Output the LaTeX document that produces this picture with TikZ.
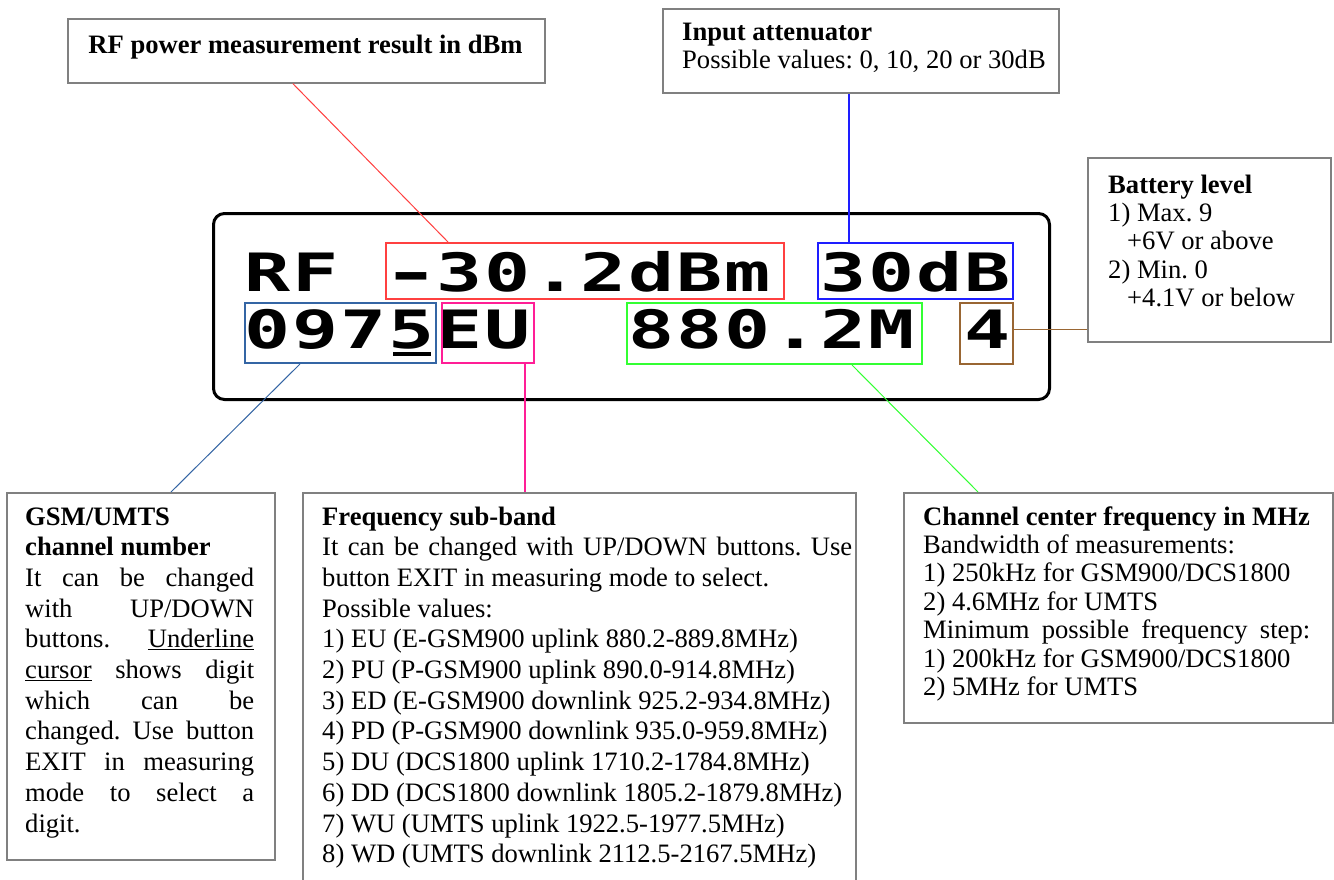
\documentclass[tikz,border=0pt]{standalone}
\usepackage{fontspec}
\usepackage{graphicx}
\setmainfont{Liberation Serif}
\newfontfamily\lcdfont{DejaVu Sans Mono}
\frenchspacing

\definecolor{rfred}{RGB}{255,64,64}
\definecolor{attblue}{RGB}{30,30,255}
\definecolor{chanblue}{RGB}{52,101,164}
\definecolor{eupink}{RGB}{255,30,150}
\definecolor{frqgreen}{RGB}{51,255,51}
\definecolor{batbrown}{RGB}{153,102,51}
\definecolor{boxgray}{RGB}{128,128,128}

% one character cell of the dot-matrix display
\newcommand\lc[1]{\makebox[48pt][c]{\scalebox{1.45}[1]{#1}}}
% the long minus of the display, kept inside its cell
\newcommand\lcdminus{\makebox[0.6em][c]{\scalebox{1.3}[1]{-}}}
% a fully justified line inside a note
\newcommand\jline[1]{\makebox[\linewidth][s]{#1}}
% note body whose baseline is the first line
\newcommand\notebody[2]{\parbox[t]{#1}{\raggedright #2}}

\begin{document}
\begin{tikzpicture}[x=1pt,y=-1pt,
  callout/.style={draw=boxgray, line width=1.5pt, inner sep=0pt, anchor=north west},
  fieldbox/.style={line width=2pt, inner sep=0pt, anchor=north west},
  lcdframe/.style={draw=black, line width=3pt, rounded corners=11pt, inner sep=0pt, anchor=north west},
  notetxt/.style={anchor=base west, inner sep=0pt, font=\fontsize{26.6}{28.4}\selectfont},
  widenote/.style={anchor=base west, inner sep=0pt, font=\fontsize{26.6}{30.7}\selectfont},
  lcdrow/.style={anchor=base west, inner sep=0pt, font=\lcdfont\bfseries\fontsize{52.8}{52.8}\selectfont},
  link/.style={line width=1pt},
  vlink/.style={line width=1.6pt}]

\fill[white] (0,0) rectangle (1334,879);
\useasboundingbox (0,0) rectangle (1334,879);

% --- display frame ---
\node[lcdframe, minimum width=836, minimum height=186] (lcd) at (212,212) {};

% --- display contents ---
\node[lcdrow] (lcdRF)   at (243.5,291) {\lc{R}\lc{F}};
\node[lcdrow] (lcdPow)  at (387.5,291) {\lc{\lcdminus}\lc{3}\lc{0}\lc{.}\lc{2}\lc{d}\lc{B}\lc{m}};
\node[lcdrow] (lcdAtt)  at (819.5,291) {\lc{3}\lc{0}\lc{d}\lc{B}};
\node[lcdrow] (lcdCh)   at (243.5,348) {\lc{0}\lc{9}\lc{7}\lc{5}};
\node[lcdrow] (lcdBand) at (435.5,348) {\lc{E}\lc{U}};
\node[lcdrow] (lcdFreq) at (627.5,348) {\lc{8}\lc{8}\lc{0}\lc{.}\lc{2}\lc{M}};
\node[lcdrow] (lcdBat)  at (963.5,348) {\lc{4}};
\node[fill=black, inner sep=0pt, minimum width=38, minimum height=4.5, anchor=north west] (cursor) at (393,351.5) {};

% --- field markers ---
\node[fieldbox, draw=rfred,    minimum width=398, minimum height=56] (rfbox)  at (385,242) {};
\node[fieldbox, draw=attblue,  minimum width=195, minimum height=56] (dbbox)  at (817,242) {};
\node[fieldbox, draw=chanblue, minimum width=191, minimum height=60] (chbox)  at (244,302) {};
\node[fieldbox, draw=eupink,   minimum width=92,  minimum height=60] (eubox)  at (441,302) {};
\node[fieldbox, draw=frqgreen, minimum width=295, minimum height=61] (frqbox) at (626,302) {};
\node[fieldbox, draw=batbrown, minimum width=53,  minimum height=61] (batbox) at (959,302) {};

% --- callout frames ---
\node[callout, minimum width=477, minimum height=64]  (rfnote)   at (67,18) {};
\node[callout, minimum width=396, minimum height=84]  (attnote)  at (662,8) {};
\node[callout, minimum width=243, minimum height=184] (batnote)  at (1087,157) {};
\node[callout, minimum width=268, minimum height=367] (gsmnote)  at (6,492) {};
\node[callout, minimum width=553, minimum height=420] (freqnote) at (302,492) {};
\node[callout, minimum width=429, minimum height=230] (chnote)   at (903,492) {};

% --- callout texts ---
\node[anchor=base, inner sep=0pt, font=\fontsize{26.6}{28.4}\selectfont\bfseries] (rftext) at (305.5,53)
  {RF power measurement result in dBm};

\node[notetxt] (atttext) at (682,40) {\notebody{372pt}{%
  \textbf{Input attenuator}\\
  Possible values: 0, 10, 20 or 30dB}};

\node[notetxt] (battext) at (1108,193) {\notebody{215pt}{%
  \textbf{Battery level}\\
  1) Max. 9\\
  \hspace*{19pt}+6V or above\\
  2) Min. 0\\
  \hspace*{19pt}+4.1V or below}};

\node[widenote] (gsmtext) at (25,525) {\notebody{229pt}{%
  \textbf{GSM/UMTS}\\
  \textbf{channel number}\\
  \jline{It can be changed}\\
  \jline{with UP/DOWN}\\
  \jline{buttons. \underline{Underline}}\\
  \jline{\underline{cursor} shows digit}\\
  \jline{which can be}\\
  \jline{changed. Use button}\\
  \jline{EXIT in measuring}\\
  \jline{mode to select a}\\
  digit.}};

\node[widenote] (freqtext) at (322,525) {\notebody{530pt}{%
  \textbf{Frequency sub-band}\\
  \jline{It can be changed with UP/DOWN buttons. Use}\\
  button EXIT in measuring mode to select.\\
  Possible values:\\
  1) EU (E-GSM900 uplink 880.2-889.8MHz)\\
  2) PU (P-GSM900 uplink 890.0-914.8MHz)\\
  3) ED (E-GSM900 downlink 925.2-934.8MHz)\\
  4) PD (P-GSM900 downlink 935.0-959.8MHz)\\
  5) DU (DCS1800 uplink 1710.2-1784.8MHz)\\
  6) DD (DCS1800 downlink 1805.2-1879.8MHz)\\
  7) WU (UMTS uplink 1922.5-1977.5MHz)\\
  8) WD (UMTS downlink 2112.5-2167.5MHz)}};

\node[notetxt] (chtext) at (923,525) {\notebody{387pt}{%
  \textbf{Channel center frequency in MHz}\\
  Bandwidth of measurements:\\
  1) 250kHz for GSM900/DCS1800\\
  2) 4.6MHz for UMTS\\
  \jline{Minimum possible frequency step:}\\
  1) 200kHz for GSM900/DCS1800\\
  2) 5MHz for UMTS}};

% --- connectors ---
\draw[link, rfred]     ([xshift=-13.5pt]rfnote.south) -- ([xshift=63pt]rfbox.north west);
\draw[vlink, attblue]  ([xshift=32pt]dbbox.north west) -- ([xshift=32pt]dbbox.north west |- attnote.south);
\draw[link, chanblue]  ([xshift=56pt]chbox.south west) -- ([xshift=165pt]gsmnote.north west);
\draw[vlink, eupink]   ([xshift=84pt]eubox.south west) -- ([xshift=84pt]eubox.south west |- freqnote.north);
\draw[link, frqgreen]  ([xshift=226pt]frqbox.south west) -- ([xshift=75pt]chnote.north west);
\draw[vlink, batbrown] ([yshift=4pt]batbox.east) -- ([yshift=4pt]batbox.east -| batnote.west);

\end{tikzpicture}
\end{document}
